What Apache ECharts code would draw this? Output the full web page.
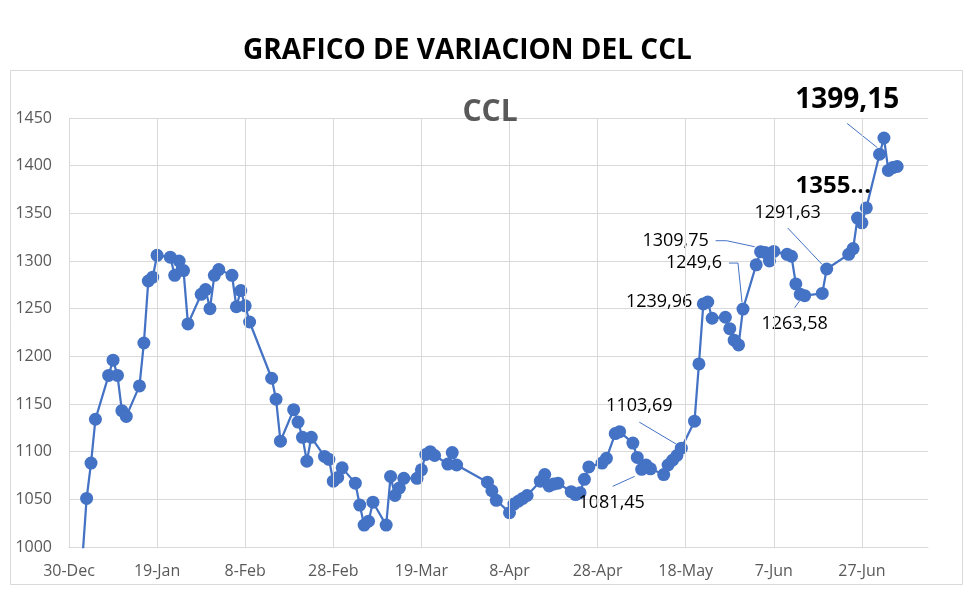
<!DOCTYPE html>
<html>
<head>
<meta charset="utf-8">
<script src="https://cdn.jsdelivr.net/npm/echarts@6/dist/echarts.min.js"></script>
<style>
html,body{margin:0;padding:0;background:#fff;}
#chart{width:980px;height:602px;}
</style>
</head>
<body>
<div id="chart"></div>
<script>
// ---- data ----
const dates = [
'2024-01-02','2024-01-03','2024-01-04','2024-01-05','2024-01-08','2024-01-09','2024-01-10','2024-01-11','2024-01-12',
'2024-01-15','2024-01-16','2024-01-17','2024-01-18','2024-01-19','2024-01-22','2024-01-23','2024-01-24','2024-01-25','2024-01-26',
'2024-01-29','2024-01-30','2024-01-31','2024-02-01','2024-02-02','2024-02-05','2024-02-06','2024-02-07','2024-02-08','2024-02-09',
'2024-02-14','2024-02-15','2024-02-16','2024-02-19','2024-02-20','2024-02-21','2024-02-22','2024-02-23',
'2024-02-26','2024-02-27','2024-02-28','2024-02-29','2024-03-01','2024-03-04','2024-03-05','2024-03-06','2024-03-07','2024-03-08',
'2024-03-11','2024-03-12','2024-03-13','2024-03-14','2024-03-15','2024-03-18','2024-03-19','2024-03-20','2024-03-21','2024-03-22',
'2024-03-25','2024-03-26','2024-03-27','2024-04-03','2024-04-04','2024-04-05','2024-04-08','2024-04-09','2024-04-10','2024-04-11','2024-04-12',
'2024-04-15','2024-04-16','2024-04-17','2024-04-18','2024-04-19','2024-04-22','2024-04-23','2024-04-24','2024-04-25','2024-04-26',
'2024-04-29','2024-04-30','2024-05-02','2024-05-03','2024-05-06','2024-05-07','2024-05-08','2024-05-09','2024-05-10',
'2024-05-13','2024-05-14','2024-05-15','2024-05-16','2024-05-17','2024-05-20','2024-05-21','2024-05-22','2024-05-23','2024-05-24',
'2024-05-27','2024-05-28','2024-05-29','2024-05-30','2024-05-31','2024-06-03','2024-06-04','2024-06-05','2024-06-06','2024-06-07',
'2024-06-10','2024-06-11','2024-06-12','2024-06-13','2024-06-14','2024-06-18','2024-06-19','2024-06-24','2024-06-25','2024-06-26',
'2024-06-27','2024-06-28','2024-07-01','2024-07-02','2024-07-03','2024-07-04','2024-07-05'
];
const ccl = [
985,1051,1088,1134,1180,1196,1180,1143,1137,
1169,1214,1279,1283,1306,1304,1285,1300,1290,1234,
1265,1270,1250,1285,1291,1285,1252,1269,1253,1236,
1177,1155,1111,1144,1131,1115,1090,1115,
1095,1092,1069,1073,1083,1067,1044,1023,1027,1047,
1023,1074,1054,1062,1072,1072,1081,1097,1100,1096,
1087,1099,1086,1068,1059,1049,1036,1045,1048,1051,1054,
1069,1076,1064,1066,1067,1058,1055,1057,1071,1084,
1088,1093,1119,1121,1109,1094,1081.45,1086,1082,
1076,1086,1091,1096,1103.69,1132,1192,1255,1257,1239.96,
1241,1229,1217,1212,1249.6,1296,1309.75,1309,1300,1310,
1307,1305,1276,1265,1263.58,1266,1291.63,1307,1313,1345,
1340,1355.7,1412,1429,1395,1398,1399.15
];
const xTickLabels = ['30-Dec','19-Jan','8-Feb','28-Feb','19-Mar','8-Apr','28-Apr','18-May','7-Jun','27-Jun'];
const yTicks = [1000,1050,1100,1150,1200,1250,1300,1350,1400,1450];
const labelledDates = ['2024-05-08','2024-05-17','2024-05-24','2024-05-31','2024-06-04','2024-06-14','2024-06-19','2024-06-28','2024-07-05'];
const truncatedDates = ['2024-06-28'];

// ---- styling / layout (not data) ----
const ORIGIN = Date.UTC(2023, 11, 30);
const X_MAX = 195, X_STEP = 20;
// label centre offset from the marker centre, in px
const labelOffsets = {
  '2024-05-08': [-30, 34], '2024-05-17': [-42, -42], '2024-05-24': [-53, -16],
  '2024-05-31': [-49, -46], '2024-06-04': [-85, -11], '2024-06-14': [-10, 28],
  '2024-06-19': [-39, -56], '2024-06-28': [-33, -22], '2024-07-05': [-50, -66]
};
// leader line polyline, relative to the marker centre, in px
const leaderOffsets = {
  '2024-05-08': [[-29, 17], [-7, 7]],
  '2024-05-17': [[-42, -26], [-5, -4]],
  '2024-05-31': [[-14, -46], [-5, -46], [-1, -7]],
  '2024-06-04': [[-45, -11], [-34, -11], [-6, -5]],
  '2024-06-14': [[-10, 12], [-5, 5]],
  '2024-06-19': [[-39, -41], [-5, -5]],
  '2024-07-05': [[-50, -43], [-20, -19]]
};
const bigLabels = {'2024-07-05': 28, '2024-06-28': 24};
const FONT = '"Open Sans", "Liberation Sans", sans-serif';
const BLUE = '#4472C4';

function dayOffset(s) {
  const p = s.split('-').map(Number);
  return Math.round((Date.UTC(p[0], p[1] - 1, p[2]) - ORIGIN) / 86400000);
}
function fmtVal(v) { return String(v).replace('.', ','); }

const lineData = dates.map((d, i) => [dayOffset(d), ccl[i]]);
const labelData = dates.map((d, i) => [dayOffset(d), ccl[i], i]).filter(r => labelledDates.includes(dates[r[2]]));

const vTicks = [];
for (let v = 0; v < X_MAX; v += X_STEP) vTicks.push(v);

function renderLabel(params, api) {
  const i = api.value(2);
  const d = dates[i];
  const v = ccl[i];
  const c = api.coord([api.value(0), api.value(1)]);
  const off = labelOffsets[d];
  const big = bigLabels[d];
  const children = [];
  const lead = leaderOffsets[d];
  if (lead) {
    children.push({
      type: 'polyline',
      shape: { points: lead.map(p => [c[0] + p[0], c[1] + p[1]]) },
      style: { stroke: BLUE, lineWidth: 1, fill: null }
    });
  }
  children.push({
    type: 'text',
    style: {
      text: truncatedDates.includes(d) ? (Math.floor(v) + '...') : fmtVal(v),
      x: c[0] + off[0], y: c[1] + off[1],
      align: 'center', verticalAlign: 'middle',
      fill: '#000',
      font: (big ? 'bold ' : '') + (big || 18) + 'px ' + FONT
    }
  });
  return { type: 'group', children: children };
}

const chart = echarts.init(document.getElementById('chart'), null, { renderer: 'canvas' });
chart.setOption({
  animation: false,
  backgroundColor: '#fff',
  textStyle: { fontFamily: FONT },
  graphic: [{
    type: 'rect', shape: { x: 10.5, y: 70.5, width: 952, height: 514 },
    style: { fill: 'none', stroke: '#d9d9d9', lineWidth: 1 }, z: -1, silent: true
  }],
  title: [{
    text: 'GRAFICO DE VARIACION DEL CCL', left: 243, top: 35, padding: 0,
    textStyle: { fontSize: 28, fontWeight: 'bold', color: '#000', fontFamily: FONT, lineHeight: 32 }
  }, {
    text: 'CCL', left: 'center', top: 96, padding: 0,
    textStyle: { fontSize: 30, fontWeight: 'bold', color: '#595959', fontFamily: FONT, lineHeight: 32 }
  }],
  grid: { left: 69, right: 52, top: 118, bottom: 55, containLabel: false },
  xAxis: {
    type: 'value', min: 0, max: X_MAX, interval: X_STEP,
    axisLine: { show: true, lineStyle: { color: '#d9d9d9', width: 1 } },
    axisTick: { show: false },
    splitLine: { show: false },
    axisLabel: {
      color: '#595959', fontSize: 16, margin: 16, fontFamily: FONT,
      showMaxLabel: false,
      formatter: v => (v % X_STEP === 0 ? (xTickLabels[v / X_STEP] || '') : '')
    }
  },
  yAxis: {
    type: 'value', min: yTicks[0], max: yTicks[yTicks.length - 1], interval: yTicks[1] - yTicks[0],
    axisLine: { show: false }, axisTick: { show: false },
    splitLine: { lineStyle: { color: '#d9d9d9', width: 1 } },
    axisLabel: { color: '#595959', fontSize: 16, margin: 17, fontFamily: FONT, formatter: v => String(v) }
  },
  series: [{
    type: 'line', data: [], z: 1, silent: true,
    markLine: {
      silent: true, symbol: 'none', animation: false,
      label: { show: false },
      lineStyle: { color: '#d9d9d9', type: 'solid', width: 1 },
      data: vTicks.map(v => ({ xAxis: v }))
    }
  }, {
    type: 'line', name: 'CCL', data: lineData, z: 3,
    symbol: 'circle', symbolSize: 13,
    itemStyle: { color: BLUE },
    lineStyle: { color: BLUE, width: 2.25 },
    label: { show: false },
    clip: true
  }, {
    type: 'custom', name: 'labels', data: labelData, z: 4, silent: true, clip: false,
    encode: { x: 0, y: 1 },
    renderItem: renderLabel
  }]
});
</script>
</body>
</html>
